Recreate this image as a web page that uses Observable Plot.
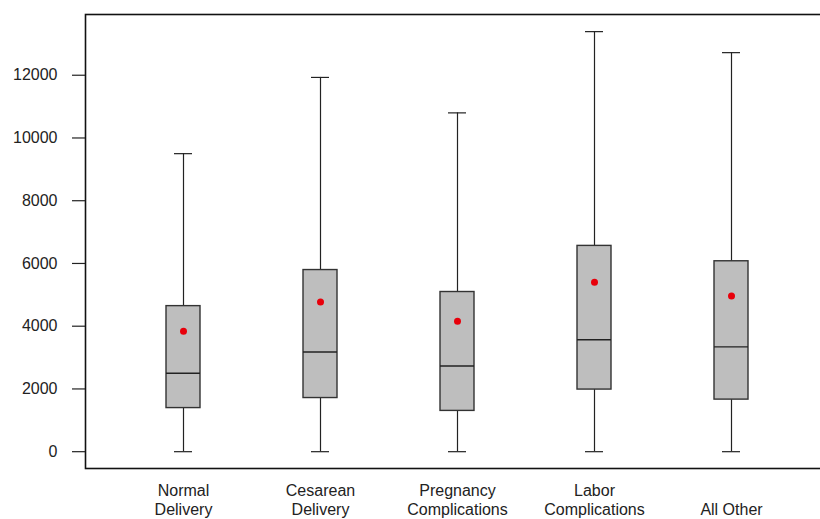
<!DOCTYPE html>
<html>
<head>
<meta charset="utf-8">
<script src="https://cdn.jsdelivr.net/npm/d3@7"></script>
<script src="https://cdn.jsdelivr.net/npm/@observablehq/plot@0.6"></script>
<style>
  html, body { margin: 0; padding: 0; background: #fff; }
  #chart { width: 820px; height: 519px; overflow: hidden; }
  #chart svg { max-width: none !important; }
</style>
</head>
<body>
<div id="chart"></div>
<script>
const categories = ["Normal Delivery", "Cesarean Delivery", "Pregnancy Complications", "Labor Complications", "All Other"];
const tickLabels = ["Normal\nDelivery", "Cesarean\nDelivery", "Pregnancy\nComplications", "Labor\nComplications", "\nAll Other"];
const mins    = [0, 0, 0, 0, 0];
const q1s     = [1390, 1710, 1300, 1980, 1660];
const medians = [2500, 3180, 2730, 3570, 3340];
const q3s     = [4640, 5790, 5090, 6560, 6070];
const maxs    = [9500, 11930, 10800, 13390, 12720];
const means   = [3840, 4770, 4160, 5400, 4960];
const yTicks  = [0, 2000, 4000, 6000, 8000, 10000, 12000];

const data = categories.map((c, i) => ({
  cat: c, min: mins[i], q1: q1s[i], median: medians[i], q3: q3s[i], max: maxs[i], mean: means[i]
}));
const labelOf = Object.fromEntries(categories.map((c, i) => [c, tickLabels[i]]));

const ink = "#222";
const chart = Plot.plot({
  width: 829,
  height: 519,
  marginLeft: 85,
  marginRight: 0,
  marginTop: 14,
  marginBottom: 51,
  style: { fontFamily: "'Liberation Sans', Arial, sans-serif", fontSize: "16px", color: ink, background: "#fff", maxWidth: "none" },
  x: { type: "band", domain: categories, paddingInner: 0.755, paddingOuter: 0.58, axis: null, label: null },
  y: { domain: [-536, 13936], axis: null, label: null },
  marks: [
    Plot.ruleX(data, { x: "cat", y1: "q3", y2: "max", stroke: ink, strokeWidth: 1.2 }),
    Plot.ruleX(data, { x: "cat", y1: "min", y2: "q1", stroke: ink, strokeWidth: 1.2 }),
    Plot.tickY(data, { x: "cat", y: "max", stroke: ink, strokeWidth: 1.2, insetLeft: 8, insetRight: 8 }),
    Plot.tickY(data, { x: "cat", y: "min", stroke: ink, strokeWidth: 1.2, insetLeft: 8, insetRight: 8 }),
    Plot.barY(data, { x: "cat", y1: "q1", y2: "q3", fill: "#bebebe", stroke: "#333", strokeWidth: 1.4 }),
    Plot.tickY(data, { x: "cat", y: "median", stroke: ink, strokeWidth: 1.4 }),
    Plot.dot(data, { x: "cat", y: "mean", r: 3.5, fill: "#e8000b", stroke: "none" }),
    Plot.frame({ stroke: "#111", strokeWidth: 1.6 }),
    Plot.axisY({ ticks: yTicks, tickSize: 13, tickPadding: 15, tickFormat: d => String(d), fontSize: 16, stroke: ink, strokeWidth: 1.2, label: null }),
    Plot.axisX({ tickSize: 0, tickPadding: 14, tickFormat: d => labelOf[d], fontSize: 16, lineHeight: 1.19, label: null })
  ]
});
document.getElementById("chart").appendChild(chart);
</script>
</body>
</html>
